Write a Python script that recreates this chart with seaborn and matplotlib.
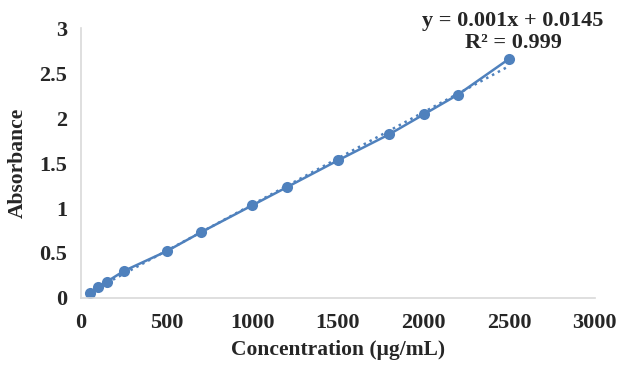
import matplotlib
matplotlib.use("Agg")
import matplotlib.pyplot as plt
import numpy as np
import pandas as pd
import seaborn as sns

concentration = [50, 100, 150, 250, 500, 700, 1000, 1200, 1500, 1800, 2000, 2200, 2500]
absorbance = [0.06, 0.12, 0.18, 0.30, 0.52, 0.73, 1.03, 1.23, 1.53, 1.82, 2.04, 2.26, 2.66]
equation_text = "y = 0.001x + 0.0145\nR² = 0.999"

df = pd.DataFrame({"conc": concentration, "abs": absorbance})

sns.set_style("white")
plt.rcParams["font.family"] = ["Liberation Serif", "DejaVu Serif"]
plt.rcParams["font.weight"] = "bold"

blue = "#4F81BD"
fig = plt.figure(figsize=(6.19, 3.66), dpi=100)
ax = fig.add_axes([0.131, 0.186, 0.830, 0.737])

# linear trendline (dotted), fit over the data range
sns.regplot(data=df, x="conc", y="abs", scatter=False, ci=None, truncate=True,
            color=blue, line_kws={"linestyle": ":", "linewidth": 1.8}, ax=ax)
sns.lineplot(data=df, x="conc", y="abs", color=blue, marker="o", markersize=8,
             markeredgewidth=0, linewidth=1.8, ax=ax)

ax.set_xlim(0, 3000)
ax.set_ylim(0, 3)
ax.set_xticks(np.arange(0, 3001, 500))
ax.set_yticks([0, 0.5, 1, 1.5, 2, 2.5, 3])
ax.set_yticklabels(["0", "0.5", "1", "1.5", "2", "2.5", "3"])
ax.tick_params(axis="x", labelsize=16, length=0, pad=11)
ax.tick_params(axis="y", labelsize=16, length=0, pad=10)
for lbl in ax.get_xticklabels() + ax.get_yticklabels():
    lbl.set_fontweight("bold")

ax.set_xlabel("Concentration (μg/mL)", fontsize=15.5, fontweight="bold", labelpad=5)
ax.set_ylabel("Absorbance", fontsize=15.5, fontweight="bold", labelpad=8)

for side in ["top", "right"]:
    ax.spines[side].set_visible(False)
for side in ["left", "bottom"]:
    ax.spines[side].set_color("#D9D9D9")
    ax.spines[side].set_linewidth(1.2)

fig.text(0.829, 0.912, equation_text, ha="center", va="center", fontsize=16,
         fontweight="bold", linespacing=1.15)

fig.savefig("out.png", dpi=100)
